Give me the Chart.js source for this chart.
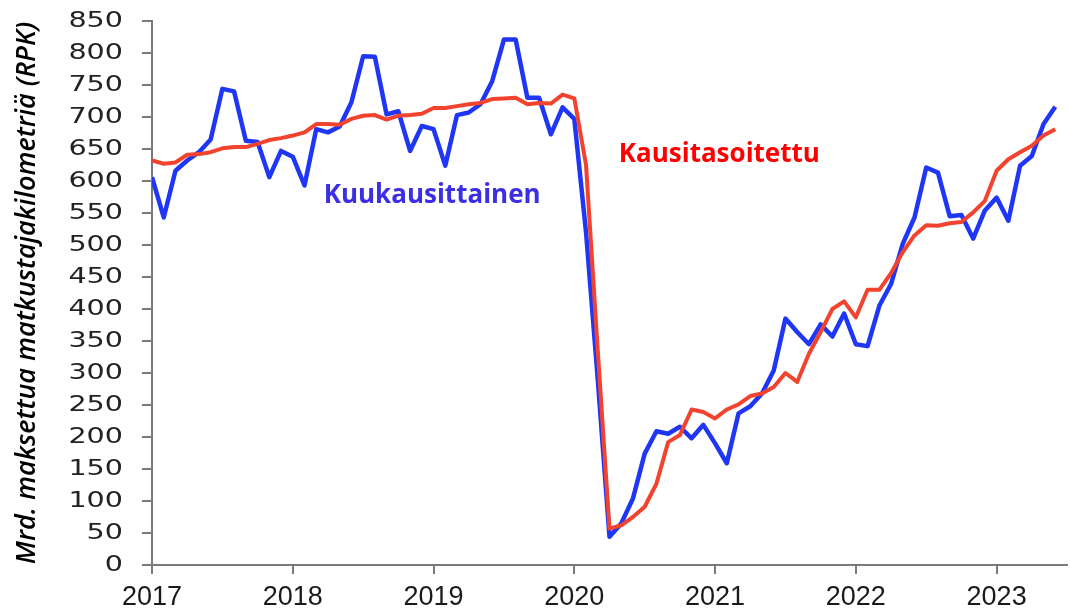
<!DOCTYPE html>
<html lang="fi">
<head>
<meta charset="utf-8">
<title>RPK</title>
<script src="https://cdn.jsdelivr.net/npm/chart.js@4.4.0/dist/chart.umd.min.js"></script>
<style>
  html, body { margin: 0; padding: 0; background: #fff; }
  #wrap { width: 1070px; height: 613px; position: relative; }
</style>
</head>
<body>
<div id="wrap"><canvas id="rpkChart"></canvas></div>
<script>
// Data: monthly values from Jan 2017 to Jun 2023 (mrd RPK)
const startYear = 2017;
const monthly = [
    606, 543, 616, 632, 645, 665, 744, 740, 663, 661, 606, 647,   // 2017
    638, 593, 681, 676, 685, 723, 795, 794, 704, 709, 647, 686,   // 2018
    681, 624, 703, 707, 720, 756, 821, 821, 730, 730, 673, 715,   // 2019
    697, 520, 290, 44, 65, 104, 174, 209, 205, 216, 198, 219,     // 2020
    190, 159, 237, 248, 268, 304, 385, 364, 345, 376, 357, 393,   // 2021
    345, 342, 405, 439, 502, 543, 621, 613, 545, 547, 510, 554,   // 2022
    574, 538, 624, 639, 689, 716                                  // 2023
];
const seasonal = [
    632, 627, 629, 641, 642, 645, 651, 653, 653, 658, 664, 667,   // 2017
    671, 676, 689, 689, 688, 697, 702, 703, 696, 702, 703, 705,   // 2018
    714, 714, 717, 720, 722, 728, 729, 730, 720, 722, 721, 735,   // 2019
    729, 625, 335, 57, 62, 75, 91, 127, 192, 203, 243, 239,       // 2020
    229, 243, 251, 264, 268, 278, 300, 286, 330, 364, 400, 412,   // 2021
    387, 430, 430, 456, 489, 515, 531, 530, 534, 536, 551, 569,   // 2022
    616, 634, 645, 655, 671, 681                                  // 2023
];
const yearTicks = [2017, 2018, 2019, 2020, 2021, 2022, 2023];
const yTitle = 'Mrd. maksettua matkustajakilometriä (RPK)';
const labelMonthly = 'Kuukausittainen';
const labelSeasonal = 'Kausitasoitettu';

const toPoints = (arr) => arr.map((v, i) => ({ x: startYear + i / 12, y: v }));

// Text labels placed on the chart through the scales
const seriesLabels = {
    id: 'seriesLabels',
    afterDatasetsDraw(chart) {
        const { ctx, scales: { x, y } } = chart;
        ctx.save();
        ctx.font = 'bold 26px "Open Sans"';
        ctx.textAlign = 'center';
        ctx.textBaseline = 'middle';
        ctx.fillStyle = '#3b2fe6';
        ctx.fillText(labelMonthly, x.getPixelForValue(2018.99), y.getPixelForValue(577));
        ctx.fillStyle = '#ff0000';
        ctx.fillText(labelSeasonal, x.getPixelForValue(2021.03), y.getPixelForValue(642));
        ctx.restore();
    }
};

// Y tick labels in the original are a wide face, so draw them a bit stretched
const wideYLabels = {
    id: 'wideYLabels',
    afterDraw(chart) {
        const { ctx, scales: { y } } = chart;
        const stretch = 1.3;
        const right = y.right - 10 - 19;
        ctx.save();
        ctx.font = '22px "DejaVu Sans"';
        ctx.fillStyle = '#222';
        ctx.textAlign = 'right';
        ctx.textBaseline = 'middle';
        ctx.scale(stretch, 1);
        y.ticks.forEach(t => {
            ctx.fillText(String(t.value), right / stretch, y.getPixelForValue(t.value));
        });
        ctx.restore();
    }
};

const ctx = document.getElementById('rpkChart').getContext('2d');
const rpkChart = new Chart(ctx, {
    type: 'line',
    data: {
        datasets: [
            {
                label: labelSeasonal,
                data: toPoints(seasonal),
                borderColor: '#f2432f',
                borderWidth: 4,
                pointRadius: 0,
                tension: 0,
                borderJoinStyle: 'round'
            },
            {
                label: labelMonthly,
                data: toPoints(monthly),
                borderColor: '#1f36f5',
                borderWidth: 4.5,
                pointRadius: 0,
                tension: 0,
                borderJoinStyle: 'round'
            }
        ]
    },
    options: {
        responsive: true,
        maintainAspectRatio: false,
        animation: false,
        layout: { padding: { top: 21, right: 3, bottom: 0, left: 0 } },
        plugins: {
            legend: { display: false },
            tooltip: { enabled: false }
        },
        scales: {
            x: {
                type: 'linear',
                min: 2017,
                max: 2023.5,
                afterFit: (scale) => {
                    scale.height = 48;
                    scale.paddingLeft = 0;
                    scale.paddingRight = 0;
                },
                afterBuildTicks: (scale) => { scale.ticks = yearTicks.map(v => ({ value: v })); },
                border: { color: '#7a7a7a', width: 2 },
                grid: { drawOnChartArea: false, drawTicks: true, tickLength: 9, color: '#7a7a7a', lineWidth: 2 },
                ticks: {
                    color: '#1a1a1a',
                    font: { family: 'Liberation Sans', size: 27 },
                    padding: 7,
                    maxRotation: 0,
                    autoSkip: false,
                    callback: (v) => String(v)
                }
            },
            y: {
                min: 0,
                max: 850,
                afterFit: (scale) => {
                    scale.width = 152;
                    scale.paddingTop = 0;
                    scale.paddingBottom = 0;
                },
                border: { color: '#7a7a7a', width: 2 },
                grid: { drawOnChartArea: false, drawTicks: true, tickLength: 10, color: '#7a7a7a', lineWidth: 2 },
                ticks: {
                    stepSize: 50,
                    autoSkip: false,
                    color: 'rgba(0,0,0,0)',
                    font: { family: 'DejaVu Sans', size: 22, lineHeight: 1 },
                    padding: 18
                },
                title: {
                    display: true,
                    text: yTitle,
                    color: '#000',
                    font: { family: 'Open Sans', size: 27, style: 'italic', weight: '600' },
                    padding: { top: 11, bottom: 0 }
                }
            }
        }
    },
    plugins: [seriesLabels, wideYLabels]
});
</script>
</body>
</html>
